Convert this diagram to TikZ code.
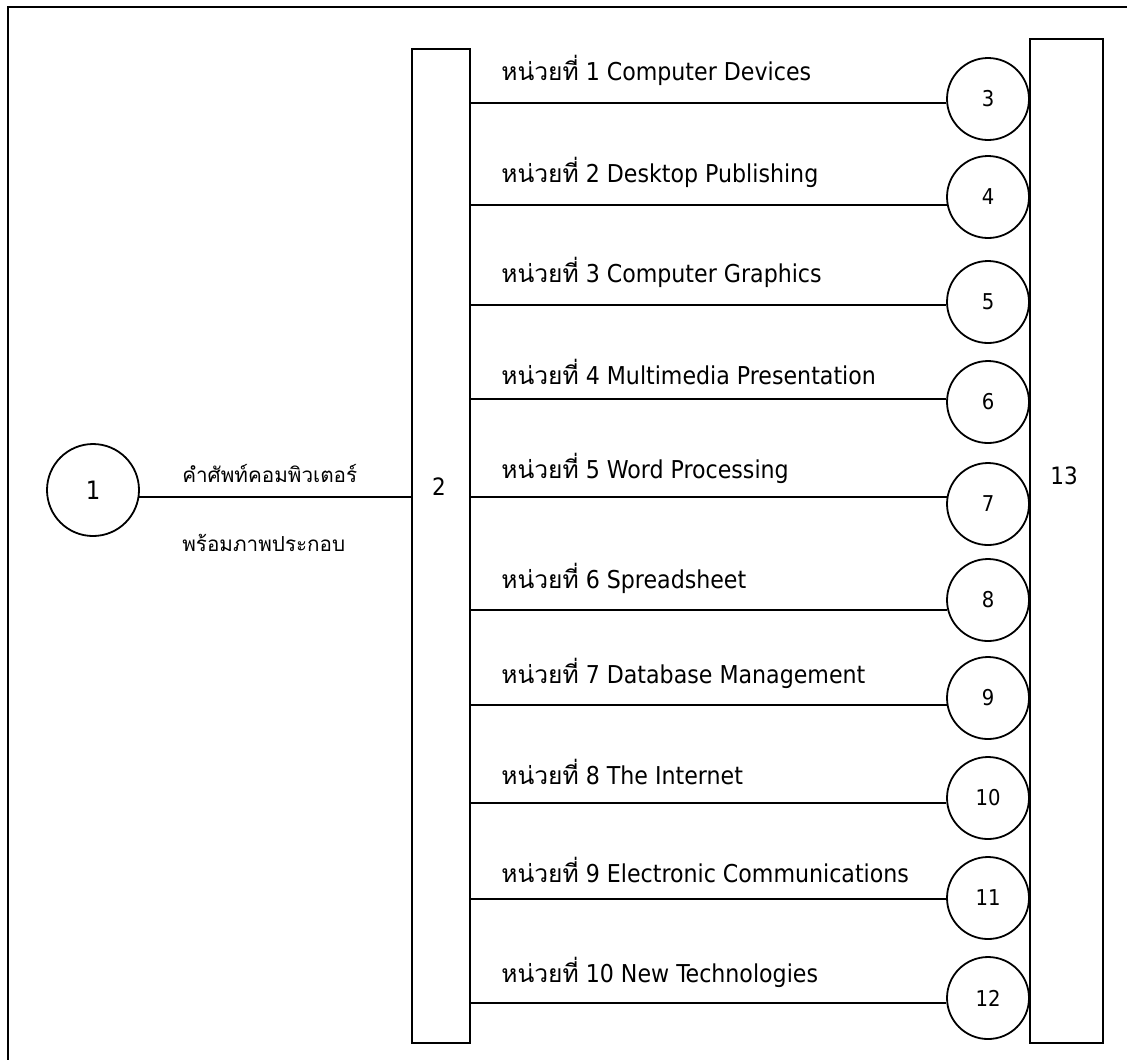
\documentclass[tikz,border=0pt]{standalone}
\usepackage{fontspec}
\setmainfont{DejaVu Sans Condensed}
\newfontfamily\thaifont[Script=Thai]{Loma}
\begin{document}
\begin{tikzpicture}[x=0.25mm,y=-0.25mm,
    every node/.style={inner sep=0pt},
    link/.style={line width=0.45mm},
    unit/.style={circle,draw,line width=0.45mm,minimum size=20.5mm,font=\fontsize{15.5}{17}\selectfont},
    topic/.style={anchor=west,font=\fontsize{17.5}{20}\selectfont},
    title/.style={anchor=west,font=\fontsize{14.7}{17}\selectfont\thaifont}]
    \useasboundingbox (0,0) rectangle (1127,1060);
    \draw[line width=0.65mm] (1127,7) -- (8,7) -- (8,1060);

    \node[circle,draw,line width=0.45mm,minimum size=23mm,font=\fontsize{18}{20}\selectfont] (u1) at (93,490) {1};
    \node[title] (name1) at (182,473) {คำศัพท์คอมพิวเตอร์};
    \node[title] (name2) at (182,543) {พร้อมภาพประกอบ};

    \node[draw,line width=0.45mm,minimum width=14.5mm,minimum height=248.5mm] (box2) at (441,546) {};
    \node[font=\fontsize{17}{19}\selectfont] (lbl2) at (439,487) {2};
    \draw[link] (u1.-9) -- (u1.-9 -| box2.west);

    \node[draw,line width=0.45mm,minimum width=18.25mm,minimum height=251mm] (box13) at (1066.5,541) {};
    \node[font=\fontsize{17}{19}\selectfont] (lbl13) at (1064,476) {13};

    \node[unit] (u3) at (988,99) {3};
    \node[unit] (u4) at (988,197) {4};
    \node[unit] (u5) at (988,302) {5};
    \node[unit] (u6) at (988,402) {6};
    \node[unit] (u7) at (988,504) {7};
    \node[unit] (u8) at (988,600) {8};
    \node[unit] (u9) at (988,698) {9};
    \node[unit] (u10) at (988,798) {10};
    \node[unit] (u11) at (988,898) {11};
    \node[unit] (u12) at (988,998) {12};

    \node[topic] (t1) at (501,70) {{\thaifont หน่วยที่} 1 Computer Devices};
    \node[topic] (t2) at (501,172) {{\thaifont หน่วยที่} 2 Desktop Publishing};
    \node[topic] (t3) at (501,272) {{\thaifont หน่วยที่} 3 Computer Graphics};
    \node[topic] (t4) at (501,372) {{\thaifont หน่วยที่} 4 Multimedia Presentation};
    \node[topic] (t5) at (501,468) {{\thaifont หน่วยที่} 5 Word Processing};
    \node[topic] (t6) at (501,578) {{\thaifont หน่วยที่} 6 Spreadsheet};
    \node[topic] (t7) at (501,673) {{\thaifont หน่วยที่} 7 Database Management};
    \node[topic] (t8) at (501,772) {{\thaifont หน่วยที่} 8 The Internet};
    \node[topic] (t9) at (501,870) {{\thaifont หน่วยที่} 9 Electronic Communications};
    \node[topic] (t10) at (501,972) {{\thaifont หน่วยที่} 10 New Technologies};

    \draw[link] (u3.186) -- (u3.186 -| box2.east);
    \draw[link] (u4.191) -- (u4.191 -| box2.east);
    \draw[link] (u5.184) -- (u5.184 -| box2.east);
    \draw[link] (u6.176) -- (u6.176 -| box2.east);
    \draw[link] (u7.170) -- (u7.170 -| box2.east);
    \draw[link] (u8.194) -- (u8.194 -| box2.east);
    \draw[link] (u9.190) -- (u9.190 -| box2.east);
    \draw[link] (u10.187) -- (u10.187 -| box2.east);
    \draw[link] (u11.181) -- (u11.181 -| box2.east);
    \draw[link] (u12.187) -- (u12.187 -| box2.east);
  \end{tikzpicture}
\end{document}
